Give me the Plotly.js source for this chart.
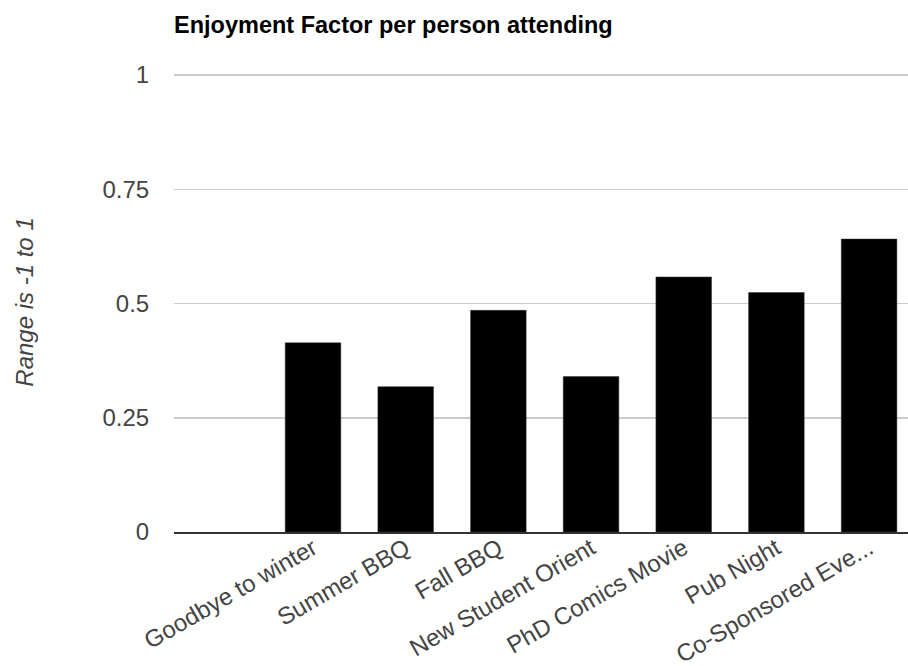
<!DOCTYPE html>
<html>
<head>
<meta charset="utf-8">
<script src="https://cdn.plot.ly/plotly-3.0.1.min.js"></script>
<style>html,body{margin:0;padding:0;background:#fff;}#chart{width:908px;height:666px;}</style>
</head>
<body>
<div id="chart"></div>
<script>
var categories = ["", "Goodbye to winter", "Summer BBQ", "Fall BBQ", "New Student Orient", "PhD Comics Movie", "Pub Night", "Co-Sponsored Eve..."];
var values = [null, 0.414, 0.318, 0.485, 0.340, 0.558, 0.524, 0.641];
var yTicks = [0, 0.25, 0.5, 0.75, 1];
var yTickLabels = ["0", "0.25", "0.5", "0.75", "1"];

var positions = categories.map(function (c, i) { return i; });

var trace = {
  type: 'bar',
  x: positions,
  y: values,
  marker: { color: '#000000', line: { color: '#333333', width: 0.5 } },
  hoverinfo: 'skip'
};

var layout = {
  width: 908,
  height: 666,
  paper_bgcolor: '#ffffff',
  plot_bgcolor: '#ffffff',
  margin: { l: 174, r: 0, t: 72, b: 134 },
  showlegend: false,
  bargap: 0.4,
  font: { family: 'Liberation Sans, Arial, sans-serif', color: '#444444', size: 24 },
  title: {
    text: '<b>Enjoyment Factor per person attending</b>',
    x: 0,
    xanchor: 'left',
    xref: 'paper',
    yref: 'container',
    y: 1 - 25 / 666,
    yanchor: 'middle',
    font: { family: 'Liberation Sans, Arial, sans-serif', size: 23.5, color: '#000000' }
  },
  xaxis: {
    range: [-0.5, 7.42],
    tickmode: 'array',
    tickvals: positions,
    ticktext: categories,
    tickangle: -30,
    tickfont: { size: 24, color: '#444444' },
    showgrid: false,
    zeroline: false,
    showline: true,
    linecolor: '#333333',
    linewidth: 2,
    ticks: '',
    ticklabelstandoff: -9,
    fixedrange: true
  },
  yaxis: {
    range: [0, 1.00656],
    tickmode: 'array',
    tickvals: yTicks,
    ticktext: yTickLabels,
    tickfont: { size: 24, color: '#444444' },
    showgrid: true,
    gridcolor: '#cccccc',
    gridwidth: 1.5,
    zeroline: false,
    showline: false,
    ticks: 'outside',
    ticklen: 19,
    tickcolor: 'rgba(0,0,0,0)',
    automargin: false,
    title: {
      text: '<i>Range is -1 to 1</i>',
      font: { size: 24, color: '#444444' },
      standoff: 62
    },
    fixedrange: true
  }
};

Plotly.newPlot('chart', [trace], layout, { displayModeBar: false, staticPlot: true });
</script>
</body>
</html>
